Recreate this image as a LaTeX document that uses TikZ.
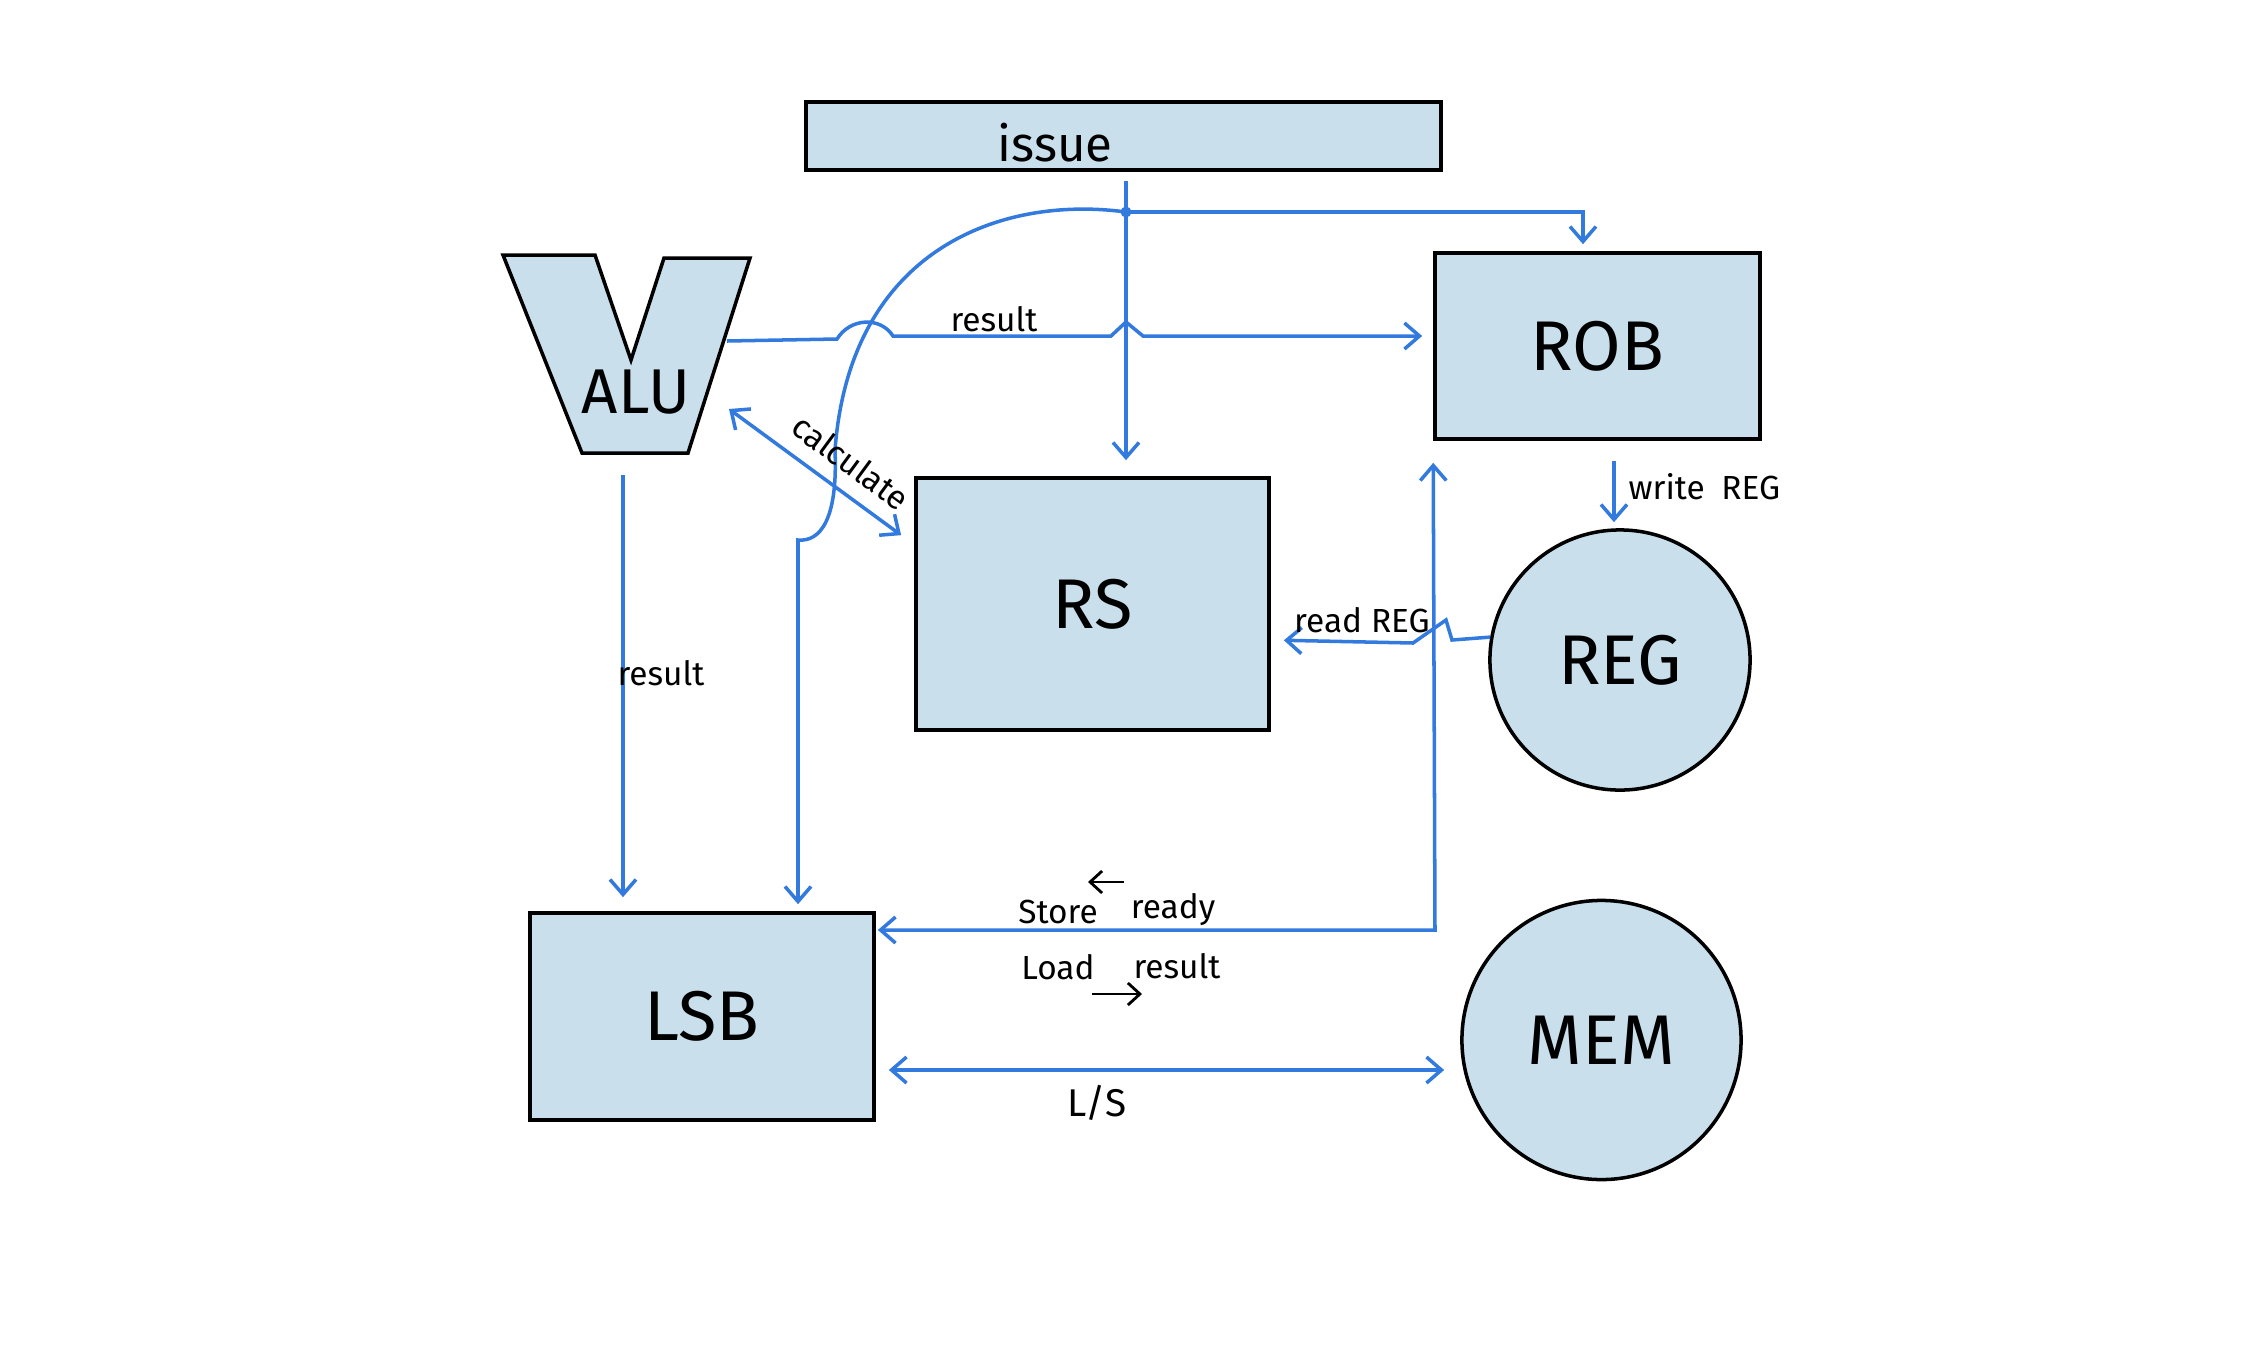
\documentclass[tikz,border=0pt]{standalone}
\usepackage{fontspec}
\setmainfont{Fira Sans}
\usetikzlibrary{arrows.meta,calc}
\definecolor{fillb}{RGB}{201,223,236}
\definecolor{lineb}{RGB}{50,122,222}
\begin{document}
\begin{tikzpicture}[x=0.01cm,y=-0.01cm,
  box/.style={draw=black,line width=1pt,fill=fillb,inner sep=0pt},
  conn/.style={draw=lineb,line width=1pt},
  tip/.style={-{Straight Barb[length=1.5mm,width=2.6mm]}},
  both/.style={{Straight Barb[length=1.5mm,width=2.6mm]}-{Straight Barb[length=1.5mm,width=2.6mm]}},
  ktip/.style={-{Straight Barb[length=1.2mm,width=2.2mm]}},
  lbl/.style={font=\fontsize{9.5}{11}\selectfont},
  big/.style={font=\fontsize{20}{24}\selectfont}]

\useasboundingbox (0,0) rectangle (2244,1366);

% ---- nodes ----
\node[box,minimum width=6.35cm,minimum height=0.68cm] (issue) at (1123.5,136) {};
\node[font=\fontsize{14}{16}\selectfont] (issuetext) at (1055,143) {issue};

\draw[black,line width=1pt,fill=fillb] (503,255) -- (595,255) -- (631,360) -- (664,258) -- (750,258) -- (688,453) -- (582,453) -- cycle;
\node[font=\fontsize{18}{22}\selectfont] (alu) at (636,392) {ALU};

\node[box,big,minimum width=3.25cm,minimum height=1.86cm] (rob) at (1597.5,346) {ROB};
\node[box,big,minimum width=3.53cm,minimum height=2.52cm] (rs) at (1092.5,604) {RS};
\node[box,big,minimum width=3.44cm,minimum height=2.07cm] (lsb) at (702,1016.5) {LSB};
\node[box,big,circle,minimum size=2.6cm] (reg) at (1620,660) {REG};
\node[box,big,circle,minimum size=2.79cm] (mem) at (1601.5,1040) {MEM};

% ---- coordinates ----
\coordinate (j) at (1126,212);
\coordinate (h) at (798,540);
\coordinate (ry) at (1200,336);
\coordinate (s) at (1435,930);
\coordinate (m) at (1000,1070);
\coordinate (w) at (1614,461);
\coordinate (rr) at (1300,640);
\coordinate (aluR) at (727,341);
\coordinate (aluC) at (729,409);
\coordinate (aluB) at (623,475);

% ---- connectors ----
% issue -> RS
\draw[conn,tip,shorten <=0.09cm,shorten >=0.16cm] (issue.south -| j) -- (rs.north -| j);
% junction -> ROB
\draw[conn,tip,shorten >=0.07cm] (j) -| ($(rob.north)+(-14.5,0)$);
\fill[lineb] (j) circle (0.055cm);
% junction -> LSB (curve)
\draw[conn,tip,shorten >=0.07cm] (j) .. controls (1000,195) and (850,250) .. (835,450)
  .. controls (838,520) and (820,542) .. (h) -- (lsb.north -| h);

% ALU -> ROB (result)
\draw[conn,tip,shorten >=0.11cm] (aluR) -- (837,339) .. controls (850,318) and (880,316) .. (893,336)
  -- (1111,336) -- (1126,322) -- (1143,336) -- (rob.west |- ry);
\node[lbl] at (994,319) {result};

% ALU <-> RS (calculate)
\draw[conn,both] (aluC) -- ($(rs.north west)+(-13,59)$);
\node[lbl,rotate=-36.3] at (851,462) {calculate};

% ALU -> LSB (result)
\draw[conn,tip,shorten >=0.14cm] (aluB) -- (lsb.north -| aluB);
\node[lbl] at (661,673) {result};

% ROB -> REG (write REG)
\draw[conn,tip,shorten >=0.06cm] (w) -- (reg.north -| w);
\node[lbl,anchor=west,inner sep=0pt] at (1628,487) {write\enspace REG};

% REG -> RS (read REG)
\draw[conn,tip,shorten >=0.13cm] (reg.170) -- (1452,640) -- (1446,620) -- (1413,643) -- (rs.east |- rr);
\node[lbl] at (1362,620) {read REG};

% LSB <-> ROB
\draw[conn,both,shorten <=0.02cm,shorten >=0.22cm] (lsb.east |- s) -- (s) -- (rob.south west);
\node[lbl] at (1058,912) {Store};
\node[lbl] at (1173,910) {ready};
\draw[black,line width=0.8pt,ktip] (1124,882) -- (1088,882);
\node[lbl] at (1058,967) {Load};
\node[lbl] at (1177,966) {result};
\draw[black,line width=0.8pt,ktip] (1092,994) -- (1142,994);

% LSB <-> MEM
\draw[conn,both,shorten <=0.13cm,shorten >=0.16cm] (lsb.east |- m) -- (mem.west |- m);
\node[lbl,font=\fontsize{11}{13}\selectfont] at (1097,1103) {L/S};

\end{tikzpicture}
\end{document}
